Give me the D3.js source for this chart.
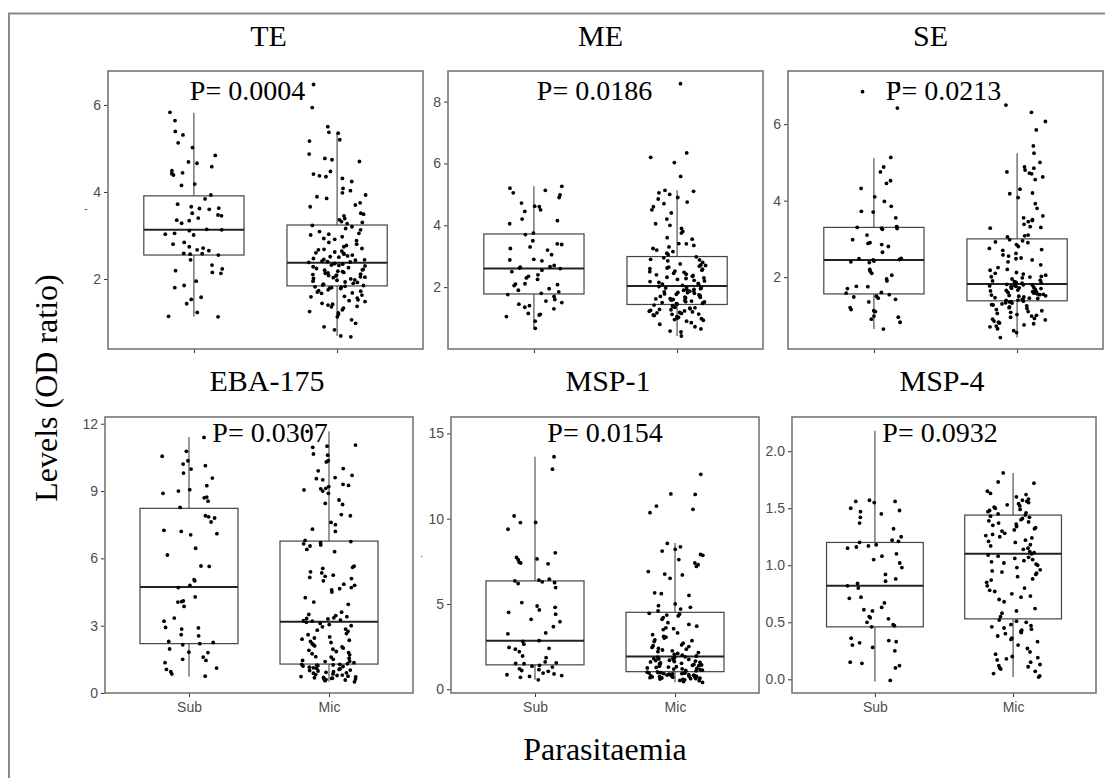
<!DOCTYPE html>
<html>
<head>
<meta charset="utf-8">
<script src="https://cdn.jsdelivr.net/npm/d3@7"></script>
<style>
  body { margin: 0; background: #fff; }
  svg { display: block; }
  .tick text { font-family: "Liberation Sans", Arial, sans-serif; font-size: 14px; fill: #4d4d4d; }
  .tick line { stroke: #333; }
</style>
</head>
<body>
<div id="chart"></div>
<script>
// panels and groups
var panelNames = ["TE", "ME", "SE", "EBA-175", "MSP-1", "MSP-4"];
var pLabels = ["P= 0.0004", "P= 0.0186", "P= 0.0213", "P= 0.0307", "P= 0.0154", "P= 0.0932"];
var groups = ["Sub", "Mic"];

// y axis domains and tick labels
var yDomains = [[0.39, 6.78], [0.0, 8.99], [0.12, 7.39], [0.0, 12.3], [-0.22, 15.96], [-0.12, 2.3]];
var yTicks = [[2, 4, 6], [2, 4, 6, 8], [2, 4, 6], [0, 3, 6, 9, 12], [0, 5, 10, 15], [0, 0.5, 1, 1.5, 2]];

// box stats: [lower whisker, Q1, median, Q3, upper whisker]
var boxSub = [
  [1.13, 2.55, 3.13, 3.91, 5.82],
  [0.67, 1.78, 2.60, 3.72, 5.26],
  [0.64, 1.56, 2.45, 3.30, 5.11],
  [0.74, 2.20, 4.72, 8.23, 11.41],
  [0.55, 1.43, 2.85, 6.35, 13.63],
  [-0.02, 0.46, 0.82, 1.20, 2.18]
];
var boxMic = [
  [0.69, 1.84, 2.37, 3.24, 5.36],
  [0.42, 1.44, 2.04, 2.99, 5.13],
  [0.42, 1.38, 1.82, 3.00, 5.24],
  [0.50, 1.29, 3.18, 6.77, 11.66],
  [0.40, 1.03, 1.92, 4.51, 8.57],
  [0.02, 0.53, 1.10, 1.44, 1.81]
];

// individual observations
var teSub = [1.13, 1.14, 1.23, 1.43, 1.53, 1.58, 1.80, 1.85, 1.95, 2.13, 2.15, 2.19, 2.23, 2.32, 2.44,
  2.55, 2.57, 2.58, 2.59, 2.65, 2.67, 2.71, 2.74, 2.80, 2.84, 3.01, 3.03, 3.05, 3.11, 3.13,
  3.14, 3.28, 3.34, 3.35, 3.40, 3.45, 3.47, 3.51, 3.60, 3.62, 3.63, 3.66, 3.72, 3.84, 3.93,
  4.15, 4.18, 4.39, 4.42, 4.44, 4.49, 4.58, 4.66, 4.69, 4.84, 5.02, 5.13, 5.31, 5.39, 5.64, 5.83];
var teMic = [0.67, 0.69, 0.83, 0.90, 0.98, 1.06, 1.13, 1.19, 1.22, 1.25, 1.29, 1.33, 1.36, 1.37, 1.40, 1.42,
  1.44, 1.48, 1.50, 1.52, 1.56, 1.59, 1.60, 1.63, 1.67, 1.68, 1.70, 1.72, 1.73, 1.75, 1.78, 1.79, 1.80, 1.81, 1.82, 1.83,
  1.85, 1.86, 1.88, 1.90, 1.92, 1.93, 1.95, 1.97, 1.98, 2.00, 2.01, 2.03, 2.04, 2.05, 2.07, 2.08, 2.09, 2.10,
  2.11, 2.13, 2.14, 2.15, 2.17, 2.18, 2.20, 2.21, 2.22, 2.24, 2.26, 2.28, 2.30, 2.31, 2.32, 2.34, 2.35, 2.36,
  2.38, 2.39, 2.40, 2.41, 2.43, 2.44, 2.45, 2.47, 2.50, 2.51, 2.53, 2.55, 2.57, 2.59, 2.60, 2.62, 2.64, 2.67,
  2.68, 2.70, 2.74, 2.77, 2.80, 2.84, 2.88, 2.91, 2.93, 2.97, 3.01, 3.03, 3.05, 3.09, 3.13, 3.16, 3.20, 3.23,
  3.27, 3.30, 3.32, 3.36, 3.39, 3.45, 3.49, 3.51, 3.66, 3.70, 3.75, 3.85, 3.89, 3.93, 3.98, 4.03, 4.08, 4.24,
  4.31, 4.35, 4.37, 4.41, 4.47, 4.70, 4.74, 4.77, 4.87, 5.17, 5.20, 5.35, 5.37, 5.50, 5.94, 6.47];

var meSub = [0.67, 0.90, 1.05, 1.10, 1.12, 1.15, 1.30, 1.35, 1.40, 1.45, 1.50, 1.55, 1.60, 1.70, 1.76,
  1.80, 1.85, 1.90, 1.95, 2.05, 2.08, 2.10, 2.11, 2.25, 2.30, 2.35, 2.40, 2.50, 2.55, 2.60,
  2.62, 2.65, 2.66, 2.70, 2.85, 2.88, 2.90, 3.05, 3.20, 3.25, 3.30, 3.38, 3.40, 3.50, 3.70,
  3.75, 4.05, 4.15, 4.20, 4.45, 4.50, 4.60, 4.62, 4.72, 4.90, 4.98, 5.05, 5.13, 5.20, 5.26];
var meMic = [0.42, 0.55, 0.58, 0.65, 0.72, 0.80, 0.85, 0.90, 0.93, 0.95, 0.98, 1.00, 1.02, 1.05, 1.08, 1.10,
  1.12, 1.13, 1.15, 1.17, 1.18, 1.20, 1.22, 1.23, 1.25, 1.27, 1.28, 1.30, 1.32, 1.33, 1.35, 1.37, 1.38, 1.40, 1.42,
  1.45, 1.47, 1.48, 1.50, 1.52, 1.53, 1.55, 1.57, 1.58, 1.60, 1.62, 1.63, 1.65, 1.67, 1.68, 1.70, 1.72, 1.73,
  1.75, 1.77, 1.78, 1.80, 1.82, 1.83, 1.85, 1.87, 1.88, 1.90, 1.92, 1.93, 1.95, 1.97, 1.98, 2.00, 2.02,
  2.06, 2.08, 2.10, 2.12, 2.15, 2.18, 2.20, 2.22, 2.25, 2.28, 2.30, 2.32, 2.35, 2.38, 2.40, 2.42, 2.45, 2.48,
  2.50, 2.52, 2.55, 2.58, 2.60, 2.62, 2.65, 2.68, 2.70, 2.72, 2.75, 2.80, 2.85, 2.88, 2.90, 2.95, 2.98,
  3.05, 3.10, 3.15, 3.20, 3.25, 3.30, 3.35, 3.40, 3.41, 3.55, 3.60, 3.75, 3.80, 3.90, 4.00, 4.05, 4.20, 4.40,
  4.50, 4.60, 4.70, 4.75, 4.85, 4.90, 5.00, 5.05, 5.10, 5.13, 5.58, 6.03, 6.20, 6.34, 8.58];

var seSub = [0.64, 0.82, 0.90, 0.95, 0.98, 1.10, 1.12, 1.15, 1.20, 1.35, 1.42, 1.45, 1.48, 1.50, 1.54,
  1.58, 1.60, 1.70, 1.75, 1.76, 1.90, 1.95, 2.05, 2.10, 2.15, 2.20, 2.38, 2.40, 2.42, 2.45,
  2.46, 2.48, 2.49, 2.65, 2.80, 2.85, 2.88, 2.90, 2.98, 3.10, 3.25, 3.27, 3.28, 3.30, 3.31,
  3.32, 3.55, 3.70, 3.72, 3.85, 3.98, 4.10, 4.32, 4.45, 4.52, 4.75, 4.88, 5.13, 6.42, 6.85, 7.05];
var seMic = [0.42, 0.55, 0.60, 0.65, 0.70, 0.72, 0.75, 0.78, 0.80, 0.82, 0.85, 0.88, 0.90, 0.92, 0.95, 0.98,
  1.00, 1.02, 1.05, 1.08, 1.10, 1.12, 1.15, 1.18, 1.20, 1.22, 1.25, 1.27, 1.28, 1.30, 1.32, 1.33, 1.35, 1.36, 1.37,
  1.39, 1.40, 1.41, 1.42, 1.44, 1.45, 1.46, 1.48, 1.50, 1.51, 1.52, 1.53, 1.54, 1.55, 1.56, 1.58, 1.60, 1.61,
  1.62, 1.63, 1.64, 1.65, 1.66, 1.68, 1.70, 1.71, 1.72, 1.73, 1.75, 1.76, 1.77, 1.78, 1.79, 1.80, 1.81,
  1.84, 1.85, 1.86, 1.88, 1.90, 1.92, 1.95, 1.98, 2.00, 2.01, 2.02, 2.05, 2.08, 2.10, 2.12, 2.18, 2.20, 2.25,
  2.32, 2.40, 2.45, 2.48, 2.50, 2.55, 2.58, 2.62, 2.70, 2.72, 2.75, 2.80, 2.85, 2.90, 2.92, 2.95, 2.98,
  3.05, 3.08, 3.10, 3.28, 3.30, 3.32, 3.38, 3.45, 3.48, 3.50, 3.55, 3.60, 3.80, 3.92, 4.08, 4.18, 4.20, 4.30,
  4.55, 4.62, 4.70, 4.72, 4.75, 4.80, 4.85, 4.88, 5.00, 5.24, 5.43, 5.85, 6.07, 6.31, 6.50];

var ebaSub = [0.75, 0.85, 0.95, 1.05, 1.11, 1.35, 1.45, 1.50, 1.60, 1.80, 1.82, 1.96, 2.15, 2.20,
  2.25, 2.30, 2.55, 2.60, 2.85, 2.90, 2.92, 3.20, 3.34, 3.86, 4.05, 4.07, 4.11, 4.28, 4.70,
  4.80, 5.00, 5.05, 5.64, 5.66, 6.15, 6.45, 7.05, 7.10, 7.20, 7.25, 7.62, 7.80, 7.85, 7.90,
  8.27, 8.55, 8.70, 8.73, 8.90, 9.00, 9.06, 9.24, 9.58, 9.80, 9.98, 10.13, 10.20, 10.35, 10.55, 10.77, 11.39];
var ebaMic = [0.50, 0.55, 0.58, 0.60, 0.62, 0.63, 0.65, 0.66, 0.68, 0.70, 0.72, 0.73, 0.75, 0.78, 0.80, 0.82,
  0.85, 0.88, 0.90, 0.92, 0.95, 0.98, 1.00, 1.02, 1.05, 1.08, 1.10, 1.12, 1.15, 1.18, 1.20, 1.22, 1.24, 1.25, 1.27, 1.28,
  1.30, 1.35, 1.40, 1.42, 1.45, 1.50, 1.55, 1.60, 1.62, 1.70, 1.75, 1.80, 1.85, 1.90, 1.95, 2.00, 2.05, 2.10,
  2.15, 2.20, 2.25, 2.30, 2.35, 2.40, 2.45, 2.50, 2.60, 2.65, 2.75, 2.80, 2.85, 2.95, 3.00, 3.05, 3.10, 3.15,
  3.20, 3.22, 3.25, 3.30, 3.32, 3.35, 3.40, 3.45, 3.50, 3.60, 3.95, 4.05, 4.25, 4.50, 4.60, 4.65, 4.70, 4.80,
  4.85, 5.00, 5.10, 5.15, 5.20, 5.25, 5.35, 5.40, 5.55, 5.60, 5.65, 6.30, 6.40, 6.55, 6.60, 6.65, 6.70, 6.75,
  6.80, 7.20, 7.30, 7.50, 7.60, 7.90, 7.95, 8.40, 8.45, 8.60, 8.90, 9.00, 9.05, 9.10, 9.12, 9.20, 9.25, 9.30,
  9.50, 9.55, 9.60, 9.70, 9.90, 10.00, 10.30, 10.35, 10.60, 10.65, 10.95, 11.00, 11.05, 11.66];

var msp1Sub = [0.55, 0.70, 0.75, 0.80, 0.85, 0.90, 0.95, 1.05, 1.10, 1.15, 1.20, 1.30, 1.35, 1.40, 1.50,
  1.51, 1.55, 1.60, 1.85, 1.95, 2.20, 2.35, 2.40, 2.45, 2.64, 2.80, 2.85,
  3.25, 3.30, 3.67, 3.96, 4.10, 4.40, 4.51, 4.65, 4.80, 4.88, 5.08, 5.96, 6.20, 6.25, 6.30, 6.35,
  6.40, 6.45, 7.35, 7.40, 7.45, 7.60, 7.64, 7.73, 8.00, 9.38, 9.77, 9.78, 10.16, 12.90, 13.63];
var msp1Mic = [0.40, 0.45, 0.50, 0.52, 0.55, 0.58, 0.60, 0.62, 0.63, 0.65, 0.66, 0.68, 0.70, 0.71, 0.72, 0.74,
  0.75, 0.76, 0.78, 0.79, 0.80, 0.82, 0.83, 0.85, 0.86, 0.88, 0.90, 0.91, 0.92, 0.94, 0.95, 0.97, 0.98, 1.00, 1.02,
  1.05, 1.08, 1.10, 1.12, 1.15, 1.18, 1.20, 1.22, 1.25, 1.28, 1.30, 1.32, 1.35, 1.38, 1.40, 1.42, 1.45, 1.48,
  1.50, 1.52, 1.55, 1.58, 1.60, 1.62, 1.65, 1.68, 1.70, 1.72, 1.75, 1.78, 1.80, 1.82, 1.85, 1.88, 1.90,
  1.95, 2.00, 2.05, 2.10, 2.15, 2.20, 2.25, 2.30, 2.35, 2.40, 2.45, 2.50, 2.55, 2.60, 2.70, 2.80, 2.85, 2.90,
  3.00, 3.05, 3.10, 3.20, 3.30, 3.50, 3.55, 3.60, 3.70, 3.80, 3.90, 4.10, 4.20, 4.30, 4.35, 4.40, 4.45,
  4.60, 4.70, 4.80, 4.90, 5.00, 5.50, 5.60, 5.65, 6.50, 6.70, 6.75, 6.90, 7.20, 7.30, 7.40, 7.60, 7.85, 7.90,
  8.10, 8.20, 8.35, 8.55, 10.35, 10.55, 10.74, 11.42, 11.45, 12.60];

var msp4Sub = [-0.01, 0.10, 0.12, 0.14, 0.15, 0.25, 0.28, 0.30, 0.32, 0.33, 0.34, 0.36, 0.46, 0.47, 0.48,
  0.50, 0.53, 0.54, 0.55, 0.60, 0.61, 0.63, 0.67, 0.71, 0.72, 0.80, 0.82,
  0.84, 0.86, 0.88, 0.92, 0.98, 1.02, 1.05, 1.08, 1.10, 1.15, 1.16, 1.17, 1.18, 1.20, 1.21,
  1.22, 1.25, 1.32, 1.37, 1.42, 1.45, 1.47, 1.48, 1.50, 1.55, 1.56, 1.56, 1.57];
var msp4Mic = [0.02, 0.03, 0.05, 0.07, 0.09, 0.10, 0.11, 0.12, 0.13, 0.15, 0.17, 0.18, 0.19, 0.20, 0.22, 0.24,
  0.27, 0.30, 0.33, 0.35, 0.36, 0.38, 0.40, 0.41, 0.42, 0.43, 0.44, 0.45, 0.46, 0.47, 0.48, 0.50, 0.51, 0.52,
  0.55, 0.58, 0.60, 0.62, 0.68, 0.70, 0.72, 0.73, 0.75, 0.77, 0.78, 0.80, 0.82, 0.85, 0.87, 0.88, 0.90, 0.92,
  0.93, 0.94, 0.95, 0.96, 0.98, 1.00, 1.01, 1.02, 1.03, 1.04, 1.05, 1.06, 1.07, 1.08, 1.09, 1.10,
  1.11, 1.12, 1.14, 1.15, 1.17, 1.18, 1.20, 1.21, 1.22, 1.24, 1.25, 1.26, 1.27, 1.28, 1.30, 1.31, 1.32, 1.33,
  1.34, 1.35, 1.36, 1.37, 1.38, 1.39, 1.40, 1.41, 1.42, 1.43, 1.44,
  1.45, 1.46, 1.47, 1.48, 1.49, 1.50, 1.51, 1.52, 1.53, 1.54, 1.55, 1.56, 1.57, 1.58, 1.60, 1.62, 1.63, 1.65,
  1.72, 1.73, 1.81];

var pointsSub = [teSub, meSub, seSub, ebaSub, msp1Sub, msp4Sub];
var pointsMic = [teMic, meMic, seMic, ebaMic, msp1Mic, msp4Mic];

// layout (pixel boxes of the six panels)
var width = 1105, height = 778;
var panelBox = [
  {x: 108, y: 71, w: 315, h: 278}, {x: 448, y: 71, w: 315, h: 278}, {x: 788, y: 71, w: 315, h: 278},
  {x: 105, y: 417, w: 308, h: 276}, {x: 451, y: 417, w: 308, h: 276}, {x: 792, y: 417, w: 304, h: 276}
];
var titleShift = [3, -5, -15, 8, 3, -2];
var pShift = [-18, -11, -2, 11, 0, -4];

function jitter(i, k) {
  var s = Math.sin((i + 1) * 12.9898 + k * 78.233) * 43758.5453;
  return s - Math.floor(s) - 0.5;
}

var svg = d3.select("#chart").append("svg")
  .attr("width", width).attr("height", height);

// outer frame (cropped on the right and bottom)
svg.append("path")
  .attr("d", "M9," + (height + 5) + "V13.5H" + (width + 5))
  .attr("fill", "none").attr("stroke", "#888").attr("stroke-width", 2);

panelNames.forEach(function (name, p) {
  var b = panelBox[p];
  var g = svg.append("g").attr("transform", "translate(" + b.x + "," + b.y + ")");
  var x = d3.scalePoint().domain(groups).range([0, b.w]).padding(0.6);
  var y = d3.scaleLinear().domain(yDomains[p]).range([b.h, 0]);
  var boxW = x.step() * 0.7;
  var fmt = p == 5 ? d3.format(".1f") : d3.format("d");

  var yAxis = g.append("g")
    .call(d3.axisLeft(y).tickValues(yTicks[p]).tickSize(4).tickPadding(3).tickFormat(fmt));
  yAxis.select(".domain").remove();

  var xAxis = g.append("g").attr("transform", "translate(0," + b.h + ")")
    .call(d3.axisBottom(x).tickSize(4).tickPadding(5));
  xAxis.select(".domain").remove();
  if (p < 3) xAxis.selectAll(".tick text").remove();

  // boxes
  var stats = [boxSub[p], boxMic[p]];
  groups.forEach(function (grp, k) {
    var s = stats[k], cx = x(grp);
    g.append("line").attr("x1", cx).attr("x2", cx)
      .attr("y1", y(s[0])).attr("y2", y(s[1]))
      .attr("stroke", "#444").attr("stroke-width", 1.1);
    g.append("line").attr("x1", cx).attr("x2", cx)
      .attr("y1", y(s[3])).attr("y2", y(s[4]))
      .attr("stroke", "#444").attr("stroke-width", 1.1);
    g.append("rect").attr("x", cx - boxW / 2).attr("y", y(s[3]))
      .attr("width", boxW).attr("height", y(s[1]) - y(s[3]))
      .attr("fill", "white").attr("stroke", "#444").attr("stroke-width", 1.2);
    g.append("line").attr("x1", cx - boxW / 2).attr("x2", cx + boxW / 2)
      .attr("y1", y(s[2])).attr("y2", y(s[2]))
      .attr("stroke", "#222").attr("stroke-width", 2);
  });

  // jittered points
  var pts = [pointsSub[p], pointsMic[p]];
  groups.forEach(function (grp, k) {
    g.selectAll(".pt" + k).data(pts[k]).enter().append("circle")
      .attr("class", "pt" + k)
      .attr("cx", function (d, i) { return x(grp) + jitter(i + p * 7, k + p) * x.step() * 0.4; })
      .attr("cy", function (d) { return y(d); })
      .attr("r", 1.9)
      .attr("fill", "#000");
  });

  // panel border
  g.append("rect").attr("width", b.w).attr("height", b.h)
    .attr("fill", "none").attr("stroke", "#777").attr("stroke-width", 1.6);

  // p value
  g.append("text")
    .attr("x", b.w / 2 + pShift[p]).attr("y", (p < 3 ? 100 : 442) - b.y)
    .attr("text-anchor", "middle")
    .style("font-family", "'Liberation Serif', 'Times New Roman', serif")
    .style("font-size", "28px")
    .text(pLabels[p]);

  // title
  svg.append("text")
    .attr("x", b.x + b.w / 2 + titleShift[p]).attr("y", p < 3 ? 46 : 391)
    .attr("text-anchor", "middle")
    .style("font-family", "'Liberation Serif', 'Times New Roman', serif")
    .style("font-size", "30px")
    .text(name);
});

// stray marks left over in the source picture
svg.append("text").attr("x", 84).attr("y", 212)
  .style("font-family", "'Liberation Sans', Arial, sans-serif").style("font-size", "11px")
  .attr("fill", "#555").text("-");
svg.append("text").attr("x", 420).attr("y", 557)
  .style("font-family", "'Liberation Sans', Arial, sans-serif").style("font-size", "11px")
  .attr("fill", "#555").text(".");

// axis titles
svg.append("text")
  .attr("transform", "translate(57,388) rotate(-90)")
  .attr("text-anchor", "middle")
  .style("font-family", "'Liberation Serif', 'Times New Roman', serif")
  .style("font-size", "32px")
  .text("Levels (OD ratio)");

svg.append("text")
  .attr("x", 605).attr("y", 760)
  .attr("text-anchor", "middle")
  .style("font-family", "'Liberation Serif', 'Times New Roman', serif")
  .style("font-size", "32px")
  .text("Parasitaemia");
</script>
</body>
</html>
